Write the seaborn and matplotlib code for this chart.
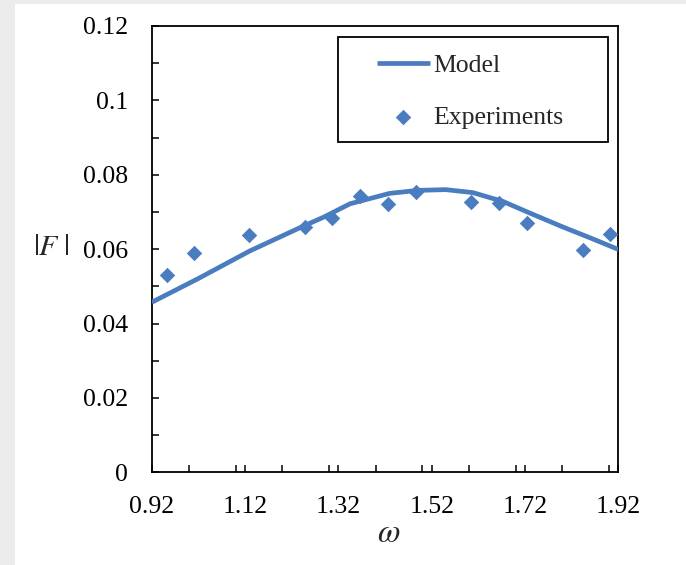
import numpy as np
import pandas as pd
import matplotlib
matplotlib.use("Agg")
import matplotlib.pyplot as plt
from matplotlib.patches import Rectangle
from matplotlib.ticker import MultipleLocator
import seaborn as sns

# model curve
model_omega = [0.92, 1.02, 1.13, 1.24, 1.29, 1.345, 1.43, 1.49,
               1.55, 1.608, 1.673, 1.73, 1.80, 1.86, 1.92]
model_F = [0.0457, 0.0521, 0.0595, 0.0659, 0.0687, 0.0722, 0.0750, 0.0758,
           0.0760, 0.0752, 0.0728, 0.0697, 0.0660, 0.0630, 0.0599]

# experimental points
exp_omega = [0.952, 1.010, 1.129, 1.248, 1.307, 1.366, 1.426, 1.486,
             1.605, 1.664, 1.725, 1.843, 1.901]
exp_F = [0.0530, 0.0589, 0.0639, 0.0659, 0.0683, 0.0742, 0.0722, 0.0753,
         0.0728, 0.0724, 0.0670, 0.0599, 0.0642]

xticks = [0.92, 1.12, 1.32, 1.52, 1.72, 1.92]
yticks = [0, 0.02, 0.04, 0.06, 0.08, 0.1, 0.12]
ytick_labels = ["0", "0.02", "0.04", "0.06", "0.08", "0.1", "0.12"]

blue = "#4a7dbf"


def main():
    sns.set_style("white")
    plt.rcParams["font.family"] = ["Liberation Serif", "DejaVu Serif"]
    plt.rcParams["mathtext.fontset"] = "stix"
    fs = 18.5

    fig = plt.figure(figsize=(6.86, 5.65), dpi=100)
    fig.patch.set_facecolor("white")
    # grey screenshot margins
    fig.patches.append(Rectangle((0, 0), 15 / 686, 1, transform=fig.transFigure,
                                 facecolor="#ececec", edgecolor="none", zorder=0))
    fig.patches.append(Rectangle((0, 1 - 4 / 565), 1, 4 / 565, transform=fig.transFigure,
                                 facecolor="#ececec", edgecolor="none", zorder=0))

    ax = fig.add_axes([0.2211, 0.1641, 0.6805, 0.7899])

    model = pd.DataFrame({"omega": model_omega, "F": model_F})
    exps = pd.DataFrame({"omega": exp_omega, "F": exp_F})

    sns.lineplot(data=model, x="omega", y="F", ax=ax, color=blue, linewidth=3.4,
                 label="Model", solid_capstyle="butt", solid_joinstyle="round", zorder=3)
    sns.scatterplot(data=exps, x="omega", y="F", ax=ax, color=blue, marker="D",
                    s=62, linewidth=0, label="Experiments", zorder=4)

    ax.set_xlim(0.92, 1.92)
    ax.set_ylim(0, 0.12)
    ax.set_xticks(xticks)
    ax.set_xticklabels([f"{t:.2f}" for t in xticks])
    ax.xaxis.set_minor_locator(MultipleLocator(0.1))
    ax.set_yticks(yticks)
    ax.set_yticklabels(ytick_labels)
    ax.yaxis.set_minor_locator(MultipleLocator(0.01))

    ax.tick_params(which="both", direction="in", length=5, width=1.1,
                   colors="black", labelsize=fs, bottom=True, left=True)
    ax.tick_params(axis="x", which="major", pad=17)
    ax.tick_params(axis="y", which="major", pad=17)
    for sp in ax.spines.values():
        sp.set_visible(True)
        sp.set_color("black")
        sp.set_linewidth(1.3)

    ax.set_xlabel(r"$\omega$", fontsize=fs + 5)
    ax.xaxis.set_label_coords(0.507, -0.137)
    ax.xaxis.label.set_va("center")
    ax.set_ylabel(r"$|F\;|$", fontsize=fs + 3, rotation=0)
    ax.yaxis.set_label_coords(-0.216, 0.5015)
    ax.yaxis.label.set_va("center")
    ax.yaxis.label.set_ha("center")

    ax.legend(loc="center left", bbox_to_anchor=(0.482, 0.853), frameon=False,
              fontsize=fs, borderpad=0, borderaxespad=0, handlelength=2.07,
              handletextpad=0.15, labelspacing=1.12)
    ax.add_patch(Rectangle((0.399, 0.740), 0.579, 0.2354, transform=ax.transAxes,
                           fill=False, edgecolor="black", linewidth=1.3, zorder=5))

    fig.savefig("out.png", dpi=100)


if __name__ == '__main__':
    main()
